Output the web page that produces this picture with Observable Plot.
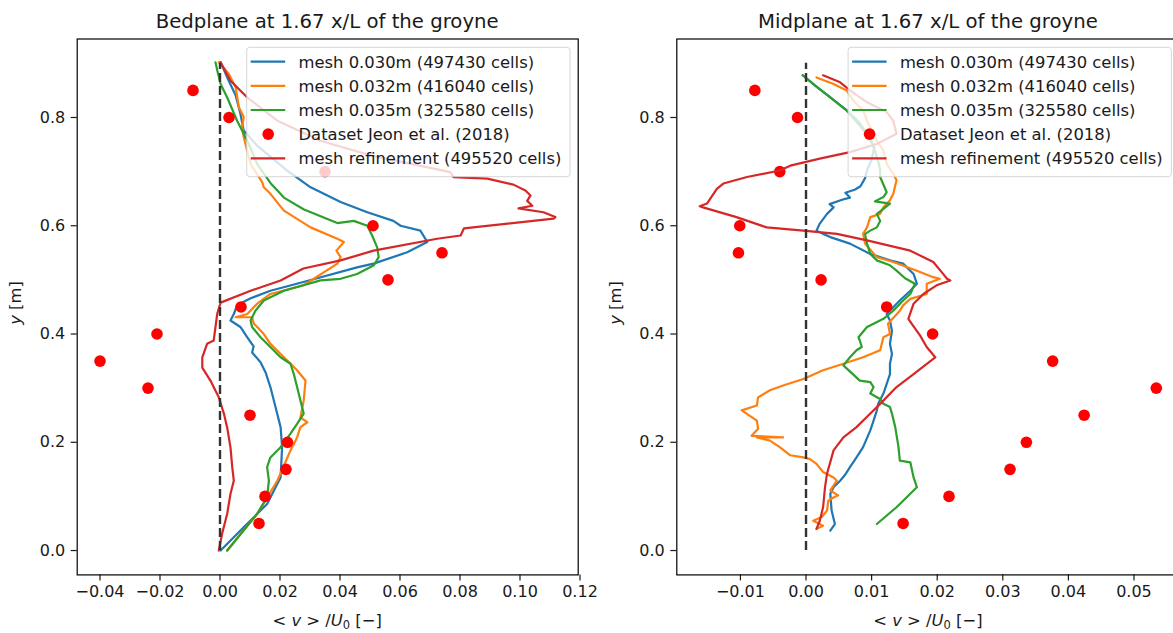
<!DOCTYPE html>
<html><head><meta charset="utf-8">
<script src="https://cdn.jsdelivr.net/npm/d3@7"></script>
<script src="https://cdn.jsdelivr.net/npm/@observablehq/plot@0.6"></script>
<style>
html,body{margin:0;padding:0;background:#fff;overflow:hidden;}
#wrap{position:relative;width:1173px;height:633px;overflow:hidden;background:#fff;}
</style>
</head><body><div id="wrap"></div>
<script>
// ---------- data ----------
const yTicks = [0, 0.2, 0.4, 0.6, 0.8];
const bedTicks = [-0.04, -0.02, 0, 0.02, 0.04, 0.06, 0.08, 0.10, 0.12];
const midTicks = [-0.01, 0, 0.01, 0.02, 0.03, 0.04, 0.05];
const titles = ["Bedplane at 1.67 x/L of the groyne", "Midplane at 1.67 x/L of the groyne"];
const legendLabels = ["mesh 0.030m (497430 cells)", "mesh 0.032m (416040 cells)", "mesh 0.035m (325580 cells)", "Dataset Jeon et al. (2018)", "mesh refinement (495520 cells)"];
const colors = {blue:"#1f77b4", orange:"#ff7f0e", green:"#2ca02c", red:"#d62728", dot:"#ff0000"};

const datasetY = [0.05,0.10,0.15,0.20,0.25,0.30,0.35,0.40,0.45,0.50,0.55,0.60,0.70,0.80,0.85];
const bedDatasetX = [0.013,0.015,0.022,0.0225,0.010,-0.024,-0.040,-0.021,0.007,0.056,0.074,0.051,0.035,0.003,-0.009];
const midDatasetX = [0.0148,0.0218,0.0311,0.0336,0.0424,0.0534,0.0376,0.0193,0.0123,0.0023,-0.0103,-0.0101,-0.0040,-0.0013,-0.0078];

const bedBlue = [[0.0002,0],[0.0079,0.043],[0.0157,0.086],[0.0202,0.135],[0.0207,0.191],[0.0202,0.228],[0.0185,0.265],[0.0168,0.302],[0.0152,0.329],[0.0135,0.348],[0.0107,0.366],[0.0112,0.377],[0.0091,0.394],[0.0068,0.413],[0.0035,0.425],[0.0046,0.437],[0.0057,0.453],[0.0102,0.466],[0.0168,0.480],[0.0278,0.496],[0.0457,0.523],[0.0512,0.530],[0.0624,0.551],[0.0691,0.570],[0.0668,0.591],[0.0602,0.600],[0.0578,0.609],[0.0491,0.625],[0.0402,0.644],[0.0302,0.671],[0.0224,0.702],[0.0124,0.748],[0.0079,0.776],[0.0068,0.807],[0.0052,0.841],[0.0024,0.874],[0.0002,0.902]];
const bedOrange = [[0.0024,0],[0.0124,0.068],[0.0191,0.129],[0.0235,0.185],[0.0257,0.209],[0.0268,0.228],[0.0291,0.237],[0.0268,0.246],[0.0279,0.277],[0.0285,0.314],[0.0257,0.333],[0.0224,0.351],[0.0202,0.363],[0.0168,0.382],[0.0146,0.400],[0.0124,0.413],[0.0113,0.419],[0.0107,0.431],[0.0052,0.431],[0.0091,0.437],[0.0124,0.456],[0.0168,0.474],[0.0279,0.490],[0.0391,0.530],[0.0402,0.542],[0.0388,0.554],[0.0413,0.570],[0.0391,0.576],[0.0302,0.597],[0.0213,0.628],[0.0168,0.659],[0.0146,0.671],[0.0141,0.680],[0.0102,0.714],[0.0079,0.764],[0.0074,0.782],[0.0079,0.801],[0.0063,0.819],[0.0052,0.856],[0.0029,0.881],[-0.0004,0.902]];
const bedGreen = [[0.0024,0],[0.0124,0.068],[0.0157,0.098],[0.0163,0.129],[0.0157,0.154],[0.0168,0.172],[0.0202,0.191],[0.0235,0.216],[0.0257,0.234],[0.0279,0.253],[0.0268,0.277],[0.0257,0.302],[0.0246,0.326],[0.0235,0.345],[0.0202,0.357],[0.0168,0.376],[0.0135,0.394],[0.0107,0.413],[0.0102,0.425],[0.0118,0.443],[0.0146,0.462],[0.0213,0.480],[0.0335,0.499],[0.0402,0.502],[0.0457,0.511],[0.0513,0.527],[0.0529,0.542],[0.0524,0.560],[0.0507,0.582],[0.0491,0.600],[0.0446,0.609],[0.0391,0.605],[0.0280,0.630],[0.0213,0.652],[0.0168,0.679],[0.0124,0.714],[0.0091,0.757],[0.0057,0.794],[0.0024,0.837],[0.0002,0.862],[-0.0009,0.887],[-0.0015,0.902]];
const bedRed = [[-0.0004,0],[0.0007,0.031],[0.0024,0.068],[0.0035,0.105],[0.0046,0.129],[0.0041,0.153],[0.0035,0.190],[0.0024,0.227],[0.0013,0.253],[-0.0004,0.283],[-0.0032,0.314],[-0.0059,0.338],[-0.0059,0.357],[-0.0043,0.382],[-0.0021,0.388],[-0.0009,0.438],[0.0002,0.458],[0.0102,0.480],[0.0202,0.499],[0.0278,0.521],[0.0402,0.536],[0.0512,0.554],[0.0724,0.576],[0.0802,0.582],[0.0813,0.595],[0.1112,0.613],[0.1118,0.616],[0.1078,0.625],[0.0995,0.632],[0.1041,0.637],[0.1024,0.646],[0.1035,0.656],[0.1018,0.665],[0.0978,0.676],[0.0891,0.687],[0.0778,0.690],[0.0768,0.699],[0.0502,0.730],[0.0335,0.757],[0.0191,0.794],[0.0091,0.837],[0.0035,0.868],[0.0002,0.902]];

const midBlue = [[0.0037,0.037],[0.0044,0.049],[0.0039,0.074],[0.0037,0.105],[0.0042,0.117],[0.0052,0.129],[0.0059,0.139],[0.0067,0.154],[0.0077,0.172],[0.0087,0.191],[0.0098,0.222],[0.0103,0.240],[0.0108,0.259],[0.0110,0.271],[0.0118,0.290],[0.0123,0.308],[0.0128,0.326],[0.0128,0.345],[0.0131,0.363],[0.0128,0.382],[0.0131,0.406],[0.0128,0.425],[0.0123,0.437],[0.0143,0.462],[0.0159,0.480],[0.0169,0.493],[0.0164,0.511],[0.0148,0.530],[0.0128,0.536],[0.0098,0.548],[0.0067,0.567],[0.0037,0.579],[0.0026,0.585],[0.0016,0.591],[0.0021,0.604],[0.0032,0.622],[0.0042,0.634],[0.0036,0.640],[0.0055,0.648],[0.0067,0.652],[0.0060,0.661],[0.0075,0.667],[0.0083,0.673],[0.0090,0.688],[0.0093,0.702],[0.0100,0.722],[0.0104,0.745],[0.0095,0.765],[0.0082,0.785],[0.0062,0.813],[0.0037,0.837],[0.0014,0.859],[-0.0005,0.878]];
const midOrange = [[0.0016,0.040],[0.0026,0.046],[0.0011,0.055],[0.0024,0.062],[0.0032,0.074],[0.0034,0.092],[0.0042,0.098],[0.0049,0.102],[0.0037,0.111],[0.0047,0.129],[0.0042,0.135],[0.0026,0.145],[0.0016,0.160],[0.0006,0.169],[-0.0004,0.172],[-0.0024,0.176],[-0.0040,0.191],[-0.0055,0.203],[-0.0075,0.209],[-0.0035,0.209],[-0.0083,0.212],[-0.0073,0.225],[-0.0075,0.240],[-0.0098,0.259],[-0.0075,0.268],[-0.0073,0.283],[-0.0055,0.296],[-0.0035,0.305],[-0.0004,0.317],[0.0026,0.333],[0.0057,0.345],[0.0087,0.357],[0.0113,0.370],[0.0118,0.394],[0.0128,0.400],[0.0125,0.419],[0.0143,0.443],[0.0148,0.453],[0.0159,0.465],[0.0184,0.474],[0.0184,0.493],[0.0204,0.502],[0.0194,0.505],[0.0169,0.517],[0.0133,0.533],[0.0108,0.542],[0.0090,0.567],[0.0087,0.585],[0.0093,0.597],[0.0098,0.616],[0.0113,0.622],[0.0118,0.634],[0.0128,0.647],[0.0133,0.659],[0.0138,0.684],[0.0133,0.696],[0.0123,0.714],[0.0118,0.739],[0.0108,0.757],[0.0098,0.782],[0.0093,0.794],[0.0087,0.813],[0.0072,0.831],[0.0062,0.850],[0.0042,0.862],[0.0016,0.874]];
const midGreen = [[0.0108,0.049],[0.0138,0.080],[0.0169,0.117],[0.0164,0.135],[0.0159,0.163],[0.0143,0.166],[0.0141,0.191],[0.0136,0.228],[0.0131,0.253],[0.0128,0.265],[0.0118,0.271],[0.0113,0.280],[0.0098,0.290],[0.0103,0.302],[0.0098,0.311],[0.0082,0.314],[0.0057,0.342],[0.0067,0.357],[0.0077,0.370],[0.0085,0.376],[0.0082,0.388],[0.0080,0.394],[0.0093,0.413],[0.0103,0.419],[0.0118,0.428],[0.0133,0.443],[0.0148,0.462],[0.0159,0.474],[0.0166,0.493],[0.0151,0.503],[0.0138,0.517],[0.0128,0.527],[0.0108,0.536],[0.0098,0.548],[0.0093,0.567],[0.0090,0.585],[0.0098,0.591],[0.0108,0.597],[0.0113,0.609],[0.0108,0.622],[0.0118,0.631],[0.0128,0.641],[0.0105,0.645],[0.0118,0.653],[0.0123,0.662],[0.0113,0.690],[0.0113,0.702],[0.0111,0.715],[0.0105,0.739],[0.0095,0.767],[0.0079,0.794],[0.0062,0.813],[0.0037,0.837],[0.0014,0.859],[-0.0005,0.878]];
const midRed = [[0.0016,0.040],[0.0021,0.055],[0.0026,0.080],[0.0029,0.117],[0.0032,0.142],[0.0042,0.185],[0.0057,0.209],[0.0077,0.228],[0.0098,0.253],[0.0113,0.271],[0.0138,0.302],[0.0164,0.326],[0.0197,0.357],[0.0184,0.376],[0.0174,0.397],[0.0161,0.419],[0.0156,0.428],[0.0164,0.456],[0.0179,0.474],[0.0199,0.490],[0.0220,0.499],[0.0215,0.502],[0.0209,0.511],[0.0194,0.533],[0.0159,0.554],[0.0093,0.573],[0.0047,0.585],[-0.0004,0.591],[-0.0060,0.597],[-0.0106,0.616],[-0.0157,0.634],[-0.0162,0.636],[-0.0151,0.641],[-0.0136,0.668],[-0.0126,0.678],[-0.0090,0.690],[-0.0040,0.702],[-0.0024,0.711],[0.0021,0.724],[0.0067,0.736],[0.0108,0.751],[0.0138,0.770],[0.0133,0.794],[0.0123,0.810],[0.0093,0.828],[0.0067,0.850],[0.0052,0.865],[0.0026,0.878]];

// ---------- layout ----------
const W = 1173, H = 633;
const wrap = document.getElementById("wrap");
const FONT = "'DejaVu Sans', sans-serif";

function panel(cfg) {
  const pts = cfg.datasetX.map((x, i) => ({x, y: datasetY[i]}));
  const L = (data, color) => Plot.line(data, {x: d => d[0], y: d => d[1], stroke: color, strokeWidth: 2.2, strokeLinejoin: "round"});
  const p = Plot.plot({
    width: cfg.width, height: H,
    marginTop: 38.5, marginBottom: 58.6, marginLeft: cfg.ml, marginRight: cfg.mr,
    style: {fontFamily: FONT, fontSize: "16px", color: "#1a1a1a", background: "transparent", overflow: "visible"},
    x: {domain: cfg.xDomain},
    y: {domain: [-0.045, 0.945]},
    marks: [
      Plot.axisX({ticks: cfg.xTicks, tickFormat: d3.format(".2f"), tickSize: 6, tickPadding: 5, label: null, strokeWidth: 1.2}),
      Plot.axisY({ticks: yTicks, tickFormat: d3.format(".1f"), tickSize: 6, tickPadding: 6, label: null, strokeWidth: 1.2}),
      L(cfg.lines[0], colors.blue),
      L(cfg.lines[1], colors.orange),
      L(cfg.lines[2], colors.green),
      Plot.dot(pts, {x: "x", y: "y", r: 5.8, fill: colors.dot}),
      L(cfg.lines[3], colors.red),
      Plot.ruleX([0], {y1: 0, y2: 0.9, stroke: "#333", strokeWidth: 2.4, strokeDasharray: "9,4"}),
      Plot.frame({stroke: "#000", strokeWidth: 1.2})
    ]
  });
  p.style.position = "absolute";
  p.style.left = cfg.left + "px";
  p.style.top = "0px";
  p.style.overflow = "visible";
  wrap.appendChild(p);
}

panel({left: 0, width: 586, ml: 76.7, mr: 8.3, xDomain: [-0.0476, 0.1194], xTicks: bedTicks,
       datasetX: bedDatasetX, lines: [bedBlue, bedOrange, bedGreen, bedRed]});
panel({left: 586, width: 600, ml: 90.3, mr: 6.6, xDomain: [-0.0197, 0.0570], xTicks: midTicks,
       datasetX: midDatasetX, lines: [midBlue, midOrange, midGreen, midRed]});

// ---------- overlay text & legends ----------
const svg = d3.select(wrap).append("svg")
  .attr("width", W).attr("height", H)
  .style("position", "absolute").style("left", "0px").style("top", "0px")
  .attr("font-family", FONT).attr("fill", "#1a1a1a");

const centers = [327.2, 927.9];
const ylabX = [21, 620.6];
centers.forEach((cx, i) => {
  svg.append("text").attr("x", cx).attr("y", 28).attr("text-anchor", "middle")
    .attr("font-size", 19.7).text(titles[i]);
  const xl = svg.append("text").attr("x", cx).attr("y", 626).attr("text-anchor", "middle").attr("font-size", 16.4);
  xl.append("tspan").text("< ");
  xl.append("tspan").attr("font-style", "italic").text("v");
  xl.append("tspan").text(" > /");
  xl.append("tspan").attr("font-style", "italic").text("U");
  xl.append("tspan").attr("font-size", 11.5).attr("dy", 3).text("0");
  xl.append("tspan").attr("dy", -3).text(" [−]");
  const yl = svg.append("text").attr("transform", `translate(${ylabX[i]},303) rotate(-90)`)
    .attr("text-anchor", "middle").attr("font-size", 16.4);
  yl.append("tspan").attr("font-style", "italic").text("y");
  yl.append("tspan").text(" [m]");
});

const legendLeft = [246.7, 848.1];
const legendColors = [colors.blue, colors.orange, colors.green, colors.dot, colors.red];
legendLeft.forEach(x0 => {
  const g = svg.append("g");
  g.append("rect").attr("x", x0).attr("y", 47.3).attr("width", 323.3).attr("height", 129.4).attr("rx", 3)
    .attr("fill", "#fff").attr("fill-opacity", 0.8).attr("stroke", "#ccc").attr("stroke-opacity", 0.8).attr("stroke-width", 1);
  legendLabels.forEach((lab, i) => {
    const cy = 61.7 + i * 24.15;
    if (i === 3) {
      g.append("circle").attr("cx", x0 + 21.5).attr("cy", cy).attr("r", 5.8).attr("fill", legendColors[i]);
    } else {
      g.append("line").attr("x1", x0 + 4).attr("x2", x0 + 38.5).attr("y1", cy).attr("y2", cy)
        .attr("stroke", legendColors[i]).attr("stroke-width", 2.2);
    }
    g.append("text").attr("x", x0 + 51.8).attr("y", cy + 6).attr("font-size", 16.4).text(lab);
  });
});
</script>
</body></html>
